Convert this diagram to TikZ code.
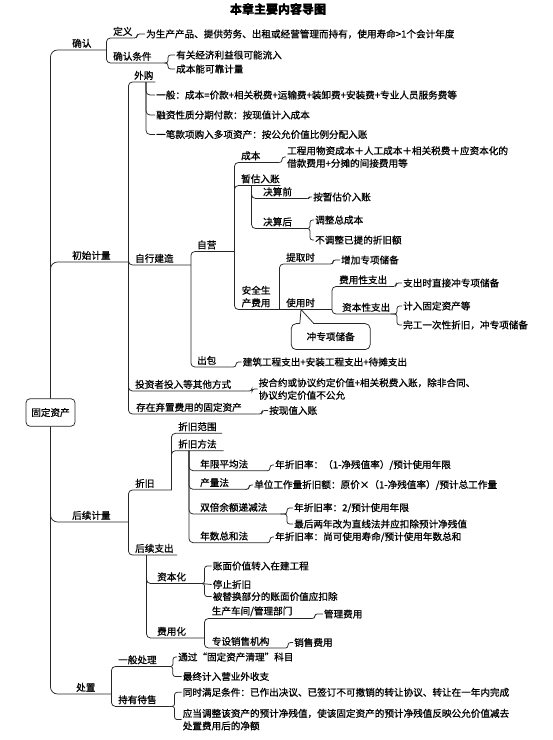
\documentclass[tikz,border=0pt]{standalone}
\usepackage{fontspec}
\setmainfont{Noto Sans CJK SC}[FakeBold=0.8]
\usepackage{tikz}
\usetikzlibrary{calc}

\begin{document}
\begin{tikzpicture}[
  x=1pt, y=-1pt,
  every node/.append style={font=\fontsize{9.6}{12.5}\selectfont},
  lbl/.style={anchor=south west, inner xsep=0pt, inner ysep=2pt, align=left},
  leaf/.style={anchor=west, inner xsep=1pt, inner ysep=1pt, align=left},
  link/.style={draw=black!85, line width=0.75pt, rounded corners=4pt},
  trunk/.style={link, rounded corners=7pt},
  hook/.style={link, rounded corners=2.5pt},
  rootbox/.style={draw=black!85, line width=0.75pt, rounded corners=4pt,
    minimum width=49pt, minimum height=27.5pt},
  callbox/.style={rootbox, minimum width=79pt, minimum height=26pt, rounded corners=5pt},
]
\useasboundingbox (0,0) rectangle (553,740);
\node[font=\bfseries\fontsize{12}{14}\selectfont] (title) at (278,9) {本章主要内容导图};
\node[rootbox] (root) at (50.5,412.5) {固定资产};

\node[lbl, text width=34pt] (qr) at (72,50) {确认};
\node[lbl, text width=56pt] (csjl) at (72,262) {初始计量};
\node[lbl, text width=56pt] (hxjl) at (72,522) {后续计量};
\node[lbl, text width=35pt] (cz) at (76,694) {处置};

\node[lbl, text width=20pt] (dy) at (113,38) {定义};
\node[lbl, text width=51pt] (qrtj) at (113,63) {确认条件};
\node[lbl, text width=21pt] (wg) at (134,82) {外购};
\node[lbl, text width=55.5pt] (zxjz) at (135,265) {自行建造};
\node[lbl, text width=112pt] (tzz) at (135,391) {投资者投入等其他方式};
\node[lbl, text width=121pt] (qz) at (136,414) {存在弃置费用的固定资产};
\node[lbl, text width=37pt] (zy) at (197,251.5) {自营};
\node[lbl, text width=34pt] (cb) at (197,367) {出包};
\node[lbl, text width=38pt] (cbn) at (241,162.5) {成本};
\node[lbl, text width=39pt] (zgrz) at (241,185.5) {暂估入账};
\node[lbl, text width=37.5pt] (aq) at (241.5,309.5) {安全生\\产费用};
\node[lbl, text width=44pt] (jsq) at (263,198.5) {决算前};
\node[lbl, text width=39pt] (jsh) at (263,228.5) {决算后};
\node[lbl, text width=42pt] (tqs) at (286,264) {提取时};
\node[lbl, text width=45.6pt] (sys) at (286,309.5) {使用时};
\node[lbl, text width=49pt] (fyx) at (339,286.5) {费用性支出};
\node[lbl, text width=48.5pt] (zbx) at (342,314) {资本性支出};
\node[lbl, text width=36pt] (zj) at (135,490) {折旧};
\node[lbl, text width=41.7pt] (hxzc) at (135,555) {后续支出};
\node[lbl, text width=43.7pt] (zjfw) at (178,433.3) {折旧范围};
\node[lbl, text width=45.3pt] (zjff) at (178,450.7) {折旧方法};
\node[lbl, text width=66.7pt] (nxpj) at (200,470.7) {年限平均法};
\node[lbl, text width=46.7pt] (cll) at (200,489.3) {产量法};
\node[lbl, text width=80pt] (sbye) at (200,514) {双倍余额递减法};
\node[lbl, text width=66.7pt] (nszh) at (200,542.7) {年数总和法};
\node[lbl, text width=44pt] (zbh) at (157,583.5) {资本化};
\node[lbl, text width=47pt] (fyh) at (157,638) {费用化};
\node[lbl, text width=98.8pt] (scbm) at (211.6,618.5) {生产车间/管理部门};
\node[lbl, text width=72.4pt] (zxxs) at (211.6,648) {专设销售机构};
\node[lbl, text width=49.5pt] (ybcl) at (118,666.5) {一般处理};
\node[lbl, text width=51.3pt] (cydsh) at (118,706.4) {持有待售};

\node[leaf] (dyA) at (145,34) {为生产产品、提供劳务、出租或经营管理而持有，使用寿命>1个会计年度};
\node[leaf] (qrtjA) at (175,55) {有关经济利益很可能流入};
\node[leaf] (qrtjB) at (175,69) {成本能可靠计量};
\node[leaf] (wgA) at (155,95) {一般：成本=价款+相关税费+运输费+装卸费+安装费+专业人员服务费等};
\node[leaf] (wgB) at (155,115) {融资性质分期付款：按现值计入成本};
\node[leaf] (wgC) at (155,134.5) {一笔款项购入多项资产：按公允价值比例分配入账};
\node[leaf] (cbnA) at (286,157) {工程用物资成本＋人工成本＋相关税费＋应资本化的\\借款费用+分摊的间接费用等};
\node[leaf] (jsqA) at (312,197) {按暂估价入账};
\node[leaf] (jshA) at (314,220) {调整总成本};
\node[leaf] (jshB) at (314,240) {不调整已提的折旧额};
\node[leaf] (tqsA) at (340,260) {增加专项储备};
\node[leaf] (fyxA) at (402,283) {支出时直接冲专项储备};
\node[leaf] (zbxA) at (402,306) {计入固定资产等};
\node[leaf] (zbxB) at (402,325) {完工一次性折旧，冲专项储备};
\node[leaf] (cbA) at (241.6,362) {建筑工程支出+安装工程支出+待摊支出};
\node[leaf] (tzzA) at (257.5,389) {按合约或协议约定价值+相关税费入账，除非合同、\\协议约定价值不公允};
\node[leaf] (qzA) at (268,410.5) {按现值入账};
\node[leaf] (nxpjA) at (274,465) {年折旧率：（1-净残值率）/预计使用年限};
\node[leaf] (cllA) at (253,485) {单位工作量折旧额：原价×（1-净残值率）/预计总工作量};
\node[leaf] (sbyeA) at (293,508) {年折旧率：2/预计使用年限};
\node[leaf] (sbyeB) at (293,524) {最后两年改为直线法并应扣除预计净残值};
\node[leaf] (nszhA) at (274,537) {年折旧率：尚可使用寿命/预计使用年数总和};
\node[leaf] (zbhA) at (211.6,566) {账面价值转入在建工程};
\node[leaf] (zbhB) at (211.6,584.5) {停止折旧};
\node[leaf] (zbhC) at (211.6,596.5) {被替换部分的账面价值应扣除};
\node[leaf] (scbmA) at (322.8,614) {管理费用};
\node[leaf] (zxxsA) at (293,642.5) {销售费用};
\node[leaf] (ybclA) at (177,657) {通过“固定资产清理”科目};
\node[leaf] (ybclB) at (181.6,676.5) {最终计入营业外收支};
\node[leaf] (cydshA) at (181.6,692.3) {同时满足条件：已作出决议、已签订不可撤销的转让协议、转让在一年内完成};
\node[leaf] (cydshB) at (181.6,719.6) {应当调整该资产的预计净残值，使该固定资产的预计净残值反映公允价值减去\\处置费用后的净额};

\node[callbox] (cx) at (330.7,336.6) {冲专项储备};
\coordinate (tip) at (301,309.5);
\fill[white] ($(cx.north west)+(9,1)$) -- (tip) -- ($(cx.north west)+(23,1)$) -- cycle;
\draw[link, sharp corners] ($(cx.north west)+(9,0.3)$) -- (tip) -- ($(cx.north west)+(23,0.3)$);

\draw[trunk] (root.north) |- (qr.south east);
\draw[trunk] (root.north) |- (csjl.south east);
\draw[trunk] (root.south) |- (hxjl.south east);
\draw[trunk] (root.south) |- (cz.south east);

\draw[link] (qr.south east) |- (dy.south east);
\draw[link] (qr.south east) |- (qrtj.south east);
\foreach \m in {wg,zxjz,tzz,qz} \draw[link] (csjl.south east) |- (\m.south east);
\draw[link] (zxjz.south east) |- (zy.south east);
\draw[link] (zxjz.south east) |- (cb.south east);
\foreach \m in {cbn,zgrz,aq} \draw[link] (zy.south east) |- (\m.south east);
\draw[link] ($(zgrz.south west)+(10.5,0)$) |- (jsq.south east);
\draw[link] ($(zgrz.south west)+(10.5,0)$) |- (jsh.south east);
\draw[link] (aq.south east) |- (tqs.south east);
\draw[link] (aq.south east) -- (sys.south east);
\draw[link] (sys.south east) |- (fyx.south east);
\draw[link] (sys.south east) |- (zbx.south east);
\draw[link] (hxjl.south east) |- (zj.south east);
\draw[link] (hxjl.south east) |- (hxzc.south east);
\draw[link] (zj.south east) |- (zjfw.south east);
\draw[link] (zj.south east) |- (zjff.south east);
\foreach \m in {nxpj,cll,sbye,nszh} \draw[link] ($(zjff.south west)+(11,0)$) |- (\m.south east);
\draw[link] ($(hxzc.south west)+(11.5,0)$) |- (zbh.south east);
\draw[link] ($(hxzc.south west)+(11.5,0)$) |- (fyh.south east);
\draw[link] (fyh.south east) |- (scbm.south east);
\draw[link] (fyh.south east) |- (zxxs.south east);
\draw[link] (cz.south east) |- (ybcl.south east);
\draw[link] (cz.south east) |- (cydsh.south east);

\draw[hook] (dy.south east) -| ($(dyA.west)+(-8,0)$) -- (dyA.west);
\foreach \m in {qrtjA,qrtjB} \draw[hook] (qrtj.south east) -| ($(\m.west)+(-7,0)$) -- (\m.west);
\foreach \m in {wgA,wgB,wgC} \draw[link] ($(wg.south west)+(12,0)$) |- (\m.west);
\draw[hook] (cbn.south east) -| ($(cbnA.west)+(-4,0)$) -- (cbnA.west);
\draw[hook, rounded corners=1pt] (jsq.south east) -| ($(jsqA.west)+(-3,0)$) -- (jsqA.west);
\foreach \m in {jshA,jshB} \draw[hook] (jsh.south east) -| ($(\m.west)+(-4,0)$) -- (\m.west);
\draw[hook] (tqs.south east) -| ($(tqsA.west)+(-7,0)$) -- (tqsA.west);
\draw[hook] (fyx.south east) -| ($(fyxA.west)+(-6,0)$) -- (fyxA.west);
\foreach \m in {zbxA,zbxB} \draw[hook] (zbx.south east) -| ($(\m.west)+(-5,0)$) -- (\m.west);
\draw[hook] (cb.south east) -| ($(cbA.west)+(-5.6,0)$) -- (cbA.west);
\draw[hook] (tzz.south east) -| ($(tzzA.west)+(-5.5,0)$) -- (tzzA.west);
\draw[hook] (qz.south east) -| ($(qzA.west)+(-6,0)$) -- (qzA.west);
\draw[hook] (nxpj.south east) -| ($(nxpjA.west)+(-4,0)$) -- (nxpjA.west);
\draw[hook] (cll.south east) -| ($(cllA.west)+(-4,0)$) -- (cllA.west);
\foreach \m in {sbyeA,sbyeB} \draw[hook] (sbye.south east) -| ($(\m.west)+(-6,0)$) -- (\m.west);
\draw[hook] (nszh.south east) -| ($(nszhA.west)+(-4,0)$) -- (nszhA.west);
\foreach \m in {zbhA,zbhC} \draw[hook] (zbh.south east) -| ($(\m.west)+(-7,0)$) -- (\m.west);
\draw[link] (zbh.south east) -- (zbhB.west);
\draw[hook] (scbm.south east) -| ($(scbmA.west)+(-8,0)$) -- (scbmA.west);
\draw[hook] (zxxs.south east) -| ($(zxxsA.west)+(-5,0)$) -- (zxxsA.west);
\draw[hook] (ybcl.south east) -| ($(ybclA.west)+(-4,0)$) -- (ybclA.west);
\draw[hook] (ybcl.south east) -| ($(ybclB.west)+(-8.8,0)$) -- (ybclB.west);
\foreach \m in {cydshA,cydshB} \draw[hook] (cydsh.south east) -| ($(\m.west)+(-7,0)$) -- (\m.west);
\end{tikzpicture}
\end{document}
